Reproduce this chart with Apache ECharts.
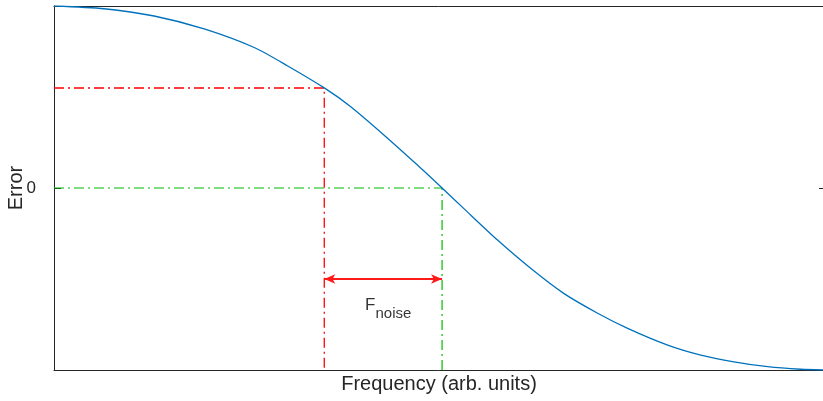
<!DOCTYPE html>
<html>
<head>
<meta charset="utf-8">
<script src="https://cdn.jsdelivr.net/npm/echarts@6/dist/echarts.min.js"></script>
<style>
  html, body { margin: 0; padding: 0; background: #fff; }
  #box { width: 823px; height: 401px; }
</style>
</head>
<body>
<div id="box"></div>
<script>
// error curve: [frequency, error]
var curveX = [0, 6.5, 13.0, 19.5, 26.0, 30.3, 35.1, 38.5, 42.8, 47.2, 50.4, 53.2, 57.6, 61.9, 66.2, 70.6, 74.5, 79.7, 84.0, 88.3, 92.7, 97.0, 100];
var curveY = [1.0, 0.985, 0.945, 0.874, 0.772, 0.672, 0.55, 0.448, 0.293, 0.126, 0.0, -0.112, -0.286, -0.441, -0.579, -0.688, -0.771, -0.863, -0.918, -0.955, -0.982, -0.996, -1.0];

// guide lines
var redX = [0, 35.1, 35.1];
var redY = [0.5495, 0.5495, -1];
var greenX = [0, 50.4, 50.4];
var greenY = [0, 0, -1];

// F_noise arrow and its label
var arrowX = [35.1, 50.4];
var arrowY = -0.5;
var labelPos = [43.4, -0.668];

var yTicks = [0];

function pairs(xs, ys) {
    return xs.map(function (x, i) { return [x, ys[i]]; });
}

var myChart = echarts.init(document.getElementById('box'));
var font = 'Liberation Sans, Arial, sans-serif';
var dashDot = [10, 4, 2, 4];

var option = {
    animation: false,
    grid: { left: 54, right: -1, top: 6, bottom: 31, outerBoundsMode: 'none', containLabel: false },
    xAxis: [
        {
            type: 'value', min: 0, max: 100,
            name: 'Frequency (arb. units)', nameLocation: 'middle', nameGap: 4, nameMoveOverlap: false,
            nameTextStyle: { fontFamily: font, fontSize: 20, color: '#262626' },
            axisLine: { onZero: false, lineStyle: { color: '#262626' } },
            axisTick: { show: false }, axisLabel: { show: false }, splitLine: { show: false }
        },
        {
            type: 'value', min: 0, max: 100, position: 'top',
            axisLine: { show: true, onZero: false, lineStyle: { color: '#262626' } },
            axisTick: { show: false }, axisLabel: { show: false }, splitLine: { show: false }
        }
    ],
    yAxis: [
        {
            type: 'value', min: -1, max: 1,
            name: 'Error', nameLocation: 'middle', nameGap: 28, nameMoveOverlap: false,
            nameTextStyle: { fontFamily: font, fontSize: 20, color: '#262626' },
            axisLine: { show: true, onZero: false, lineStyle: { color: '#262626' } },
            axisTick: { show: true, inside: true, length: 7, customValues: yTicks, lineStyle: { color: '#262626' } },
            axisLabel: { customValues: yTicks, margin: 18, fontFamily: font, fontSize: 17, color: '#262626' },
            splitLine: { show: false }
        },
        {
            type: 'value', min: -1, max: 1, position: 'right',
            axisLine: { show: true, onZero: false, lineStyle: { color: '#262626' } },
            axisTick: { show: true, inside: true, length: 5, customValues: yTicks, lineStyle: { color: '#262626' } },
            axisLabel: { show: false }, splitLine: { show: false }
        }
    ],
    series: [
        {
            type: 'line', data: pairs(redX, redY), symbol: 'none', silent: true,
            lineStyle: { color: '#ff0000', width: 1.3, type: dashDot }
        },
        {
            type: 'line', data: pairs(greenX, greenY), symbol: 'none', silent: true,
            lineStyle: { color: '#00bb00', width: 1.2, type: dashDot }
        },
        {
            type: 'line', data: pairs(curveX, curveY), symbol: 'none', smooth: 0.25,
            lineStyle: { color: '#0072bd', width: 1.3 }, z: 3
        },
        {
            type: 'scatter', data: [labelPos], symbolSize: 0, silent: true,
            label: {
                show: true, position: 'inside', color: '#000',
                formatter: '{f|F}{n|noise}',
                rich: {
                    f: { fontFamily: font, fontSize: 17, color: '#000', padding: [0, 0, 9, 0] },
                    n: { fontFamily: font, fontSize: 15, color: '#000', padding: [9, 0, 0, 0] }
                }
            },
            markLine: {
                silent: true,
                symbol: ['arrow', 'arrow'],
                symbolSize: [7, 11],
                label: { show: false },
                lineStyle: { color: '#ff1a1a', width: 2, type: 'solid' },
                data: [[{ coord: [arrowX[0], arrowY] }, { coord: [arrowX[1], arrowY] }]]
            }
        }
    ]
};

myChart.setOption(option);
</script>
</body>
</html>
